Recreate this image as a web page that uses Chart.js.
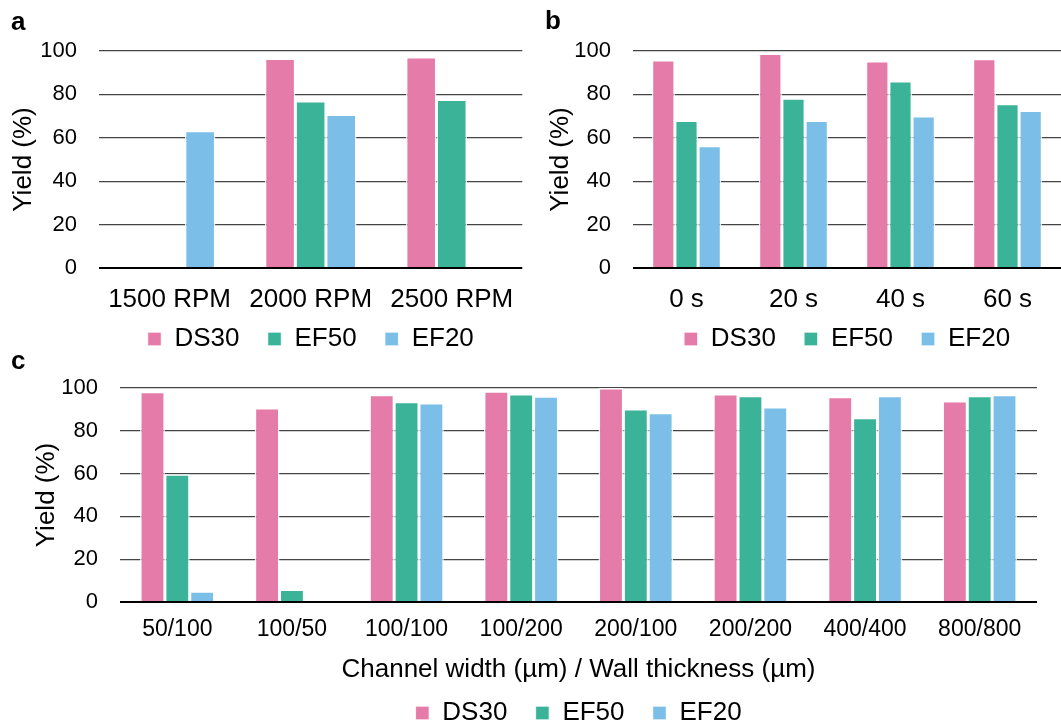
<!DOCTYPE html>
<html>
<head>
<meta charset="utf-8">
<script src="https://cdn.jsdelivr.net/npm/chart.js@4.4.1/dist/chart.umd.min.js"></script>
<style>
  body { margin: 0; background: #fff; width: 1061px; height: 727px; position: relative; overflow: hidden; font-family: "Liberation Sans", Arial, sans-serif; }
  .box { position: absolute; }
  .tag { position: absolute; font-weight: bold; font-size: 26px; color: #000; z-index: 5; line-height: 1; }
</style>
</head>
<body>
<div class="tag" style="left:11px;top:8px">a</div>
<div class="tag" style="left:545px;top:7px">b</div>
<div class="tag" style="left:11px;top:347px">c</div>
<div class="box" style="left:0;top:0;width:530px;height:362px"><canvas id="chartA"></canvas></div>
<div class="box" style="left:530px;top:0;width:531px;height:362px"><canvas id="chartB"></canvas></div>
<div class="box" style="left:0;top:340px;width:1061px;height:396px"><canvas id="chartC"></canvas></div>
<script>
// series names + colours
const seriesNames = ['DS30', 'EF50', 'EF20'];
const seriesColors = ['#e57ba8', '#3ab398', '#7bbfe8'];

// panel a: spin speed
const speedLabels = ['1500 RPM', '2000 RPM', '2500 RPM'];
const speedDS30 = [null, 96.6, 97.2];
const speedEF50 = [null, 77.0, 77.6];
const speedEF20 = [63.2, 70.7, null];

// panel b: time
const timeLabels = ['0 s', '20 s', '40 s', '60 s'];
const timeDS30 = [95.8, 98.9, 95.4, 96.4];
const timeEF50 = [68.0, 78.2, 86.2, 75.7];
const timeEF20 = [56.3, 68.0, 70.0, 72.6];

// panel c: channel width / wall thickness
const channelLabels = ['50/100', '100/50', '100/100', '100/200', '200/100', '200/200', '400/400', '800/800'];
const channelDS30 = [98.2, 90.6, 96.9, 98.5, 100.0, 97.2, 95.9, 93.9];
const channelEF50 = [59.7, 5.8, 93.6, 97.2, 90.2, 96.4, 86.1, 96.4];
const channelEF20 = [5.0, null, 93.0, 96.1, 88.4, 91.1, 96.4, 96.9];

const yTicks = [0, 20, 40, 60, 80, 100];
const FONT = '"Liberation Sans", Arial, sans-serif';

function makeDatasets(values) {
  return values.map((v, i) => ({
    label: seriesNames[i],
    data: v,
    backgroundColor: seriesColors[i],
    borderColor: 'rgba(255,255,255,0.85)',
    borderWidth: 1.5,
    borderSkipped: 'start',
    categoryPercentage: 0.65,
    barPercentage: 1,
  }));
}

// x tick labels get clipped to the axis box; let them run into the legend space
const unclipLabels = {
  id: 'unclipLabels',
  beforeDraw(chart, args, opts) {
    if (opts.extra) chart.scales.x.bottom += opts.extra;
  },
};

function buildChart(id, labels, values, opt) {
  const ctx = document.getElementById(id).getContext('2d');
  return new Chart(ctx, {
    type: 'bar',
    data: { labels, datasets: makeDatasets(values) },
    plugins: [unclipLabels],
    options: {
      responsive: true, maintainAspectRatio: false,
      animation: false,
      layout: { padding: { top: opt.top, right: opt.right, left: 0, bottom: 0 } },
      plugins: {
        unclipLabels: { extra: opt.extra || 0 },
        legend: {
          position: 'bottom', fullSize: false,
          labels: { color: '#000', boxWidth: 14, boxHeight: 14, padding: 28, font: { family: FONT, size: 26 } },
        },
        tooltip: { enabled: false },
      },
      scales: {
        x: {
          grid: { display: false, drawTicks: false },
          border: { display: false },
          ticks: { color: '#000', padding: opt.xPad, maxRotation: 0, autoSkip: false, font: { family: FONT, size: opt.xFont } },
          title: opt.xTitle
            ? { display: true, text: opt.xTitle, color: '#000', padding: { top: 0, bottom: opt.xTitlePad }, font: { family: FONT, size: 26 } }
            : { display: false },
          afterFit: s => { s.height = opt.xHeight; },
        },
        y: {
          min: 0, max: 100,
          afterBuildTicks: s => { s.ticks = yTicks.map(v => ({ value: v })); },
          grid: {
            drawTicks: false,
            color: c => c.tick && c.tick.value === 0 ? '#000' : '#444',
            lineWidth: c => c.tick && c.tick.value === 0 ? 2 : 1.3,
          },
          border: { display: false },
          ticks: { color: '#000', padding: 22, font: { family: FONT, size: 22 } },
          title: { display: true, text: 'Yield (%)', color: '#000', padding: { top: opt.yTitlePad, bottom: 0 }, font: { family: FONT, size: 26 } },
          afterFit: s => { s.width = opt.yWidth; },
        },
      },
    },
  });
}

buildChart('chartA', speedLabels, [speedDS30, speedEF50, speedEF20],
  { top: 51, right: 5, yWidth: 99, yTitlePad: 8, xFont: 26, xPad: 16, xHeight: 30, extra: 30 });
buildChart('chartB', timeLabels, [timeDS30, timeEF50, timeEF20],
  { top: 51, right: 0, yWidth: 103, yTitlePad: 15, xFont: 26, xPad: 16, xHeight: 30, extra: 30 });
buildChart('chartC', channelLabels, [channelDS30, channelEF50, channelEF20],
  { top: 48, right: 24, yWidth: 120, yTitlePad: 31, xFont: 23, xPad: 14, xHeight: 70, xTitle: 'Channel width (µm) / Wall thickness (µm)', xTitlePad: -13 });
</script>
</body>
</html>
